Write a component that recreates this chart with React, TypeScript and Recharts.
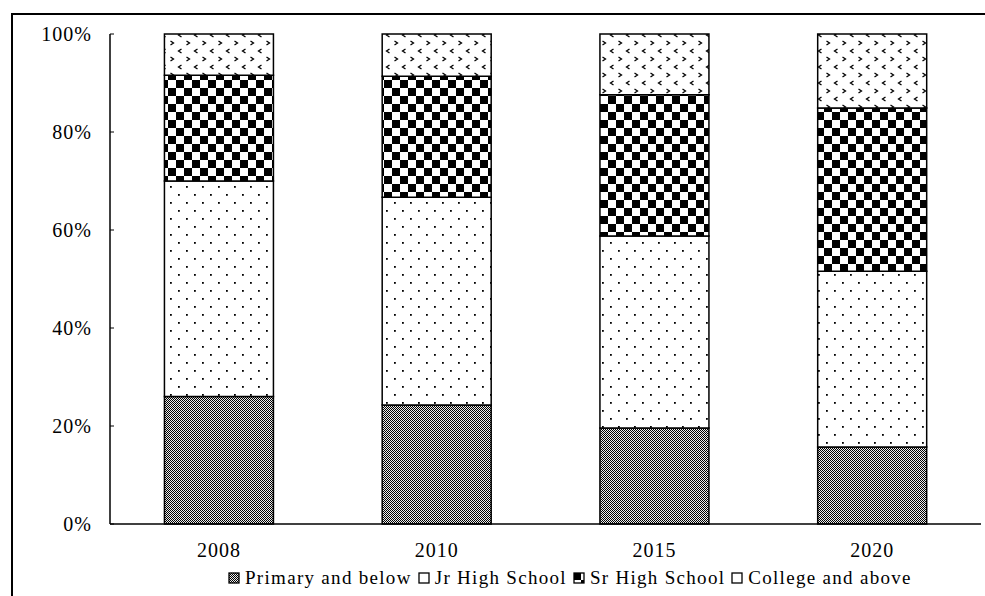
import React from 'react';
import { BarChart, Bar, XAxis, YAxis } from 'recharts';

const years = ['2008', '2010', '2015', '2020'];
const primaryAndBelow = [26.0, 24.3, 19.6, 15.7];
const jrHighSchool = [44.0, 42.4, 39.2, 35.9];
const srHighSchool = [21.6, 24.7, 28.8, 33.3];
const collegeAndAbove = [8.4, 8.6, 12.4, 15.1];
const yTicks = [0, 20, 40, 60, 80, 100];

const seriesKeys = ['primary', 'jr', 'sr', 'college'];
const seriesNames = ['Primary and below', 'Jr High School', 'Sr High School', 'College and above'];
const seriesFills = ['url(#patPrimary)', 'url(#patJr)', 'url(#patSr)', 'url(#patCollege)'];
const legendFills = ['url(#patPrimary)', '#ffffff', 'url(#patSr)', '#ffffff'];

const data = years.map((y, i) => ({
  year: y,
  primary: primaryAndBelow[i],
  jr: jrHighSchool[i],
  sr: srHighSchool[i],
  college: collegeAndAbove[i],
}));

const FONT = '"Liberation Serif", "Times New Roman", serif';

const YTick = (props: any) => {
  const { x, y, payload } = props;
  return (
    <g>
      <line x1={x + 18} x2={x + 22} y1={y} y2={y} stroke="#000" strokeWidth={1} />
      <text x={x} y={y} textAnchor="end" dominantBaseline="central" fontFamily={FONT} fontSize={20} fill="#000" letterSpacing={1}>
        {payload.value}%
      </text>
    </g>
  );
};

const XTick = (props: any) => {
  const { x, y, payload } = props;
  return (
    <text x={x} y={y} textAnchor="middle" dominantBaseline="central" fontFamily={FONT} fontSize={20} fill="#000" letterSpacing={1}>
      {payload.value}
    </text>
  );
};

export default function App() {
  return (
    <div style={{ position: 'absolute', left: 0, top: 0, width: 985, height: 596, overflow: 'hidden', background: '#fff' }}>
      <svg width={0} height={0} style={{ position: 'absolute' }}>
        <defs>
          <pattern id="patPrimary" patternUnits="userSpaceOnUse" width={2} height={2}>
            <rect x={0} y={0} width={2} height={2} fill="#ececec" />
            <rect x={0} y={0} width={1} height={1} fill="#000" />
            <rect x={1} y={1} width={1} height={1} fill="#000" />
          </pattern>
          <pattern id="patJr" patternUnits="userSpaceOnUse" width={16} height={16}>
            <rect x={0} y={0} width={16} height={16} fill="#fff" />
            <rect x={2} y={2} width={1.8} height={1.8} fill="#000" />
            <rect x={10} y={10} width={1.8} height={1.8} fill="#000" />
          </pattern>
          <pattern id="patSr" patternUnits="userSpaceOnUse" width={16} height={16}>
            <rect x={0} y={0} width={16} height={16} fill="#fff" />
            <rect x={0} y={0} width={8} height={8} fill="#000" />
            <rect x={8} y={8} width={8} height={8} fill="#000" />
          </pattern>
          <pattern id="patCollege" patternUnits="userSpaceOnUse" width={16} height={16}>
            <rect x={0} y={0} width={16} height={16} fill="#fff" />
            <path d="M5.5,1 L2.5,3 L5.5,5" fill="none" stroke="#000" strokeWidth={1.3} />
            <path d="M10.5,9 L13.5,11 L10.5,13" fill="none" stroke="#000" strokeWidth={1.3} />
          </pattern>
        </defs>
      </svg>
      <div style={{ position: 'absolute', left: 11, top: 13, width: 1200, height: 1200, borderLeft: '2px solid #000', borderTop: '2px solid #000' }} />
      <div style={{ position: 'absolute', left: 0, top: 0 }}>
        <BarChart width={985} height={596} data={data} margin={{ top: 34, right: 4, bottom: 0, left: 0 }} barCategoryGap="25%">
          <XAxis xAxisId="top" orientation="top" height={0} axisLine={{ stroke: '#999', strokeWidth: 1.5 }} tick={false} tickLine={false} />
          <YAxis yAxisId="right" orientation="right" width={0} axisLine={{ stroke: '#999', strokeWidth: 1.5 }} tick={false} tickLine={false} />
          {seriesKeys.map((k, i) => (
            <Bar key={k} dataKey={k} name={seriesNames[i]} stackId="a" fill={seriesFills[i]} stroke="#000" strokeWidth={1.5} isAnimationActive={false} />
          ))}
          <XAxis dataKey="year" height={72} axisLine={{ stroke: '#000', strokeWidth: 1.5 }} tickLine={false} tickSize={0} tickMargin={26} tick={<XTick />} />
          <YAxis domain={[0, 100]} ticks={yTicks} width={110} axisLine={{ stroke: '#000', strokeWidth: 1.5 }} tickLine={false} tickSize={0} tickMargin={18} tick={<YTick />} />
        </BarChart>
      </div>
      <div style={{ position: 'absolute', left: 228, top: 567, display: 'flex', alignItems: 'center', fontFamily: FONT, fontSize: 19, letterSpacing: 1.3, color: '#000', whiteSpace: 'nowrap' }}>
        {seriesNames.map((n, i) => (
          <span key={n} style={{ display: 'inline-flex', alignItems: 'center', marginLeft: i === 0 ? 0 : 6 }}>
            <svg width={12} height={12} style={{ marginRight: 5 }}>
              <rect x={1} y={1} width={10} height={10} fill={legendFills[i]} stroke="#000" strokeWidth={1.3} />
            </svg>
            <span>{n}</span>
          </span>
        ))}
      </div>
    </div>
  );
}
